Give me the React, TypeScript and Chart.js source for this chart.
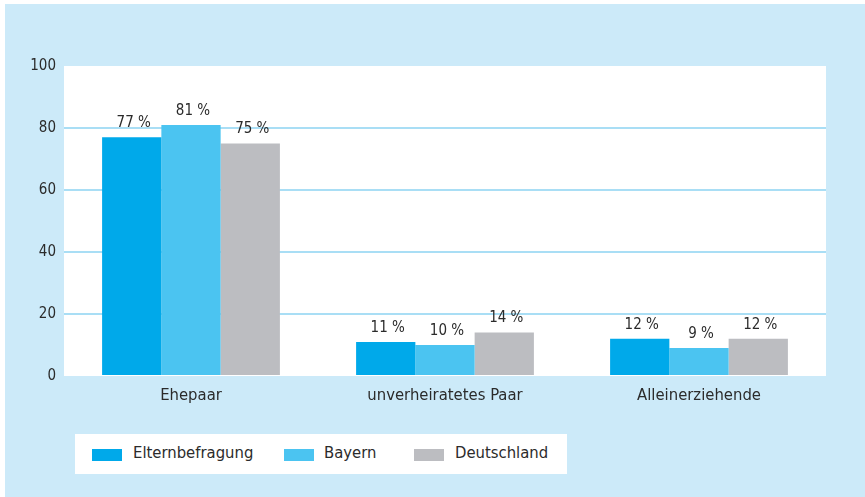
import React, { useEffect, useRef } from "react";
import { Chart, registerables } from "chart.js";

Chart.register(...registerables);

const categories = ["Ehepaar", "unverheiratetes Paar", "Alleinerziehende"];
const seriesNames = ["Elternbefragung", "Bayern", "Deutschland"];
const elternbefragung = [77, 11, 12];
const bayern = [81, 10, 9];
const deutschland = [75, 14, 12];
const seriesColors = ["#00a9ea", "#4bc4f1", "#bcbdc1"];
const yTicks = [0, 20, 40, 60, 80, 100];

const FONT = "'DejaVu Sans Condensed', 'Liberation Sans Narrow', sans-serif";
const TEXT = "#2b2b2b";
const BG = "#cceaf9";
const GRID = "#a9def5";

export default function App() {
  const ref = useRef<HTMLCanvasElement | null>(null);

  useEffect(() => {
    if (!ref.current) return;
    const values = [elternbefragung, bayern, deutschland];

    const plotBg = {
      id: "plotBg",
      beforeDraw(chart: any) {
        const { ctx, chartArea } = chart;
        ctx.save();
        ctx.fillStyle = "#ffffff";
        ctx.fillRect(chartArea.left, chartArea.top, chartArea.right - chartArea.left, chartArea.bottom - chartArea.top);
        ctx.restore();
      },
    };

    const valueLabels = {
      id: "valueLabels",
      afterDatasetsDraw(chart: any) {
        const { ctx } = chart;
        ctx.save();
        ctx.font = `15px ${FONT}`;
        ctx.fillStyle = TEXT;
        ctx.textAlign = "center";
        ctx.textBaseline = "middle";
        chart.data.datasets.forEach((ds: any, di: number) => {
          const meta = chart.getDatasetMeta(di);
          meta.data.forEach((bar: any, i: number) => {
            ctx.fillText(`${ds.data[i]} %`, bar.x + 2, bar.y - 14);
          });
        });
        ctx.restore();
      },
    };

    const chart = new Chart(ref.current, {
      type: "bar",
      data: {
        labels: categories,
        datasets: seriesNames.map((name, i) => ({
          label: name,
          data: values[i],
          backgroundColor: seriesColors[i],
          borderWidth: 0,
          categoryPercentage: 0.7,
          barPercentage: 1.0,
        })),
      },
      options: {
        animation: false,
        responsive: false,
        layout: { padding: { top: 66, right: 39, left: 0, bottom: 0 } },
        plugins: {
          legend: { display: false },
          tooltip: { enabled: false },
        },
        scales: {
          x: {
            grid: { display: false, drawTicks: false },
            border: { display: false },
            ticks: { color: TEXT, font: { family: FONT, size: 16.5 }, padding: 10 },
            afterFit: (s: any) => {
              s.height = 121;
            },
          },
          y: {
            min: 0,
            max: 100,
            afterBuildTicks: (s: any) => {
              s.ticks = yTicks.map((v) => ({ value: v }));
            },
            grid: {
              drawTicks: false,
              lineWidth: 2,
              color: (c: any) => (c.tick && (c.tick.value === 0 || c.tick.value === 100) ? "rgba(0,0,0,0)" : GRID),
            },
            border: { display: false },
            ticks: { color: TEXT, font: { family: FONT, size: 15 }, padding: 8 },
            afterFit: (s: any) => {
              s.width = 64;
            },
          },
        },
      },
      plugins: [plotBg, valueLabels],
    });
    return () => chart.destroy();
  }, []);

  const legendBoxX = [92, 284, 414];
  const legendTextX = [133, 324, 455];

  return (
    <div style={{ position: "absolute", left: 0, top: 0, width: 865, height: 497, background: "#ffffff", overflow: "hidden" }}>
      <div style={{ position: "absolute", left: 5, top: 4, width: 860, height: 493, background: BG }} />
      <canvas ref={ref} width={865} height={497} style={{ position: "absolute", left: 0, top: 0, display: "block" }} />
      <div style={{ position: "absolute", left: 75, top: 434, width: 492, height: 40, background: "#ffffff" }} />
      {seriesNames.map((name, i) => (
        <React.Fragment key={name}>
          <div
            style={{
              position: "absolute",
              left: legendBoxX[i],
              top: 449,
              width: 30,
              height: 12,
              background: seriesColors[i],
            }}
          />
          <div
            style={{
              position: "absolute",
              left: legendTextX[i],
              top: 442,
              height: 22,
              lineHeight: "22px",
              fontFamily: FONT,
              fontSize: 16.5,
              color: TEXT,
              whiteSpace: "nowrap",
            }}
          >
            {name}
          </div>
        </React.Fragment>
      ))}
    </div>
  );
}
